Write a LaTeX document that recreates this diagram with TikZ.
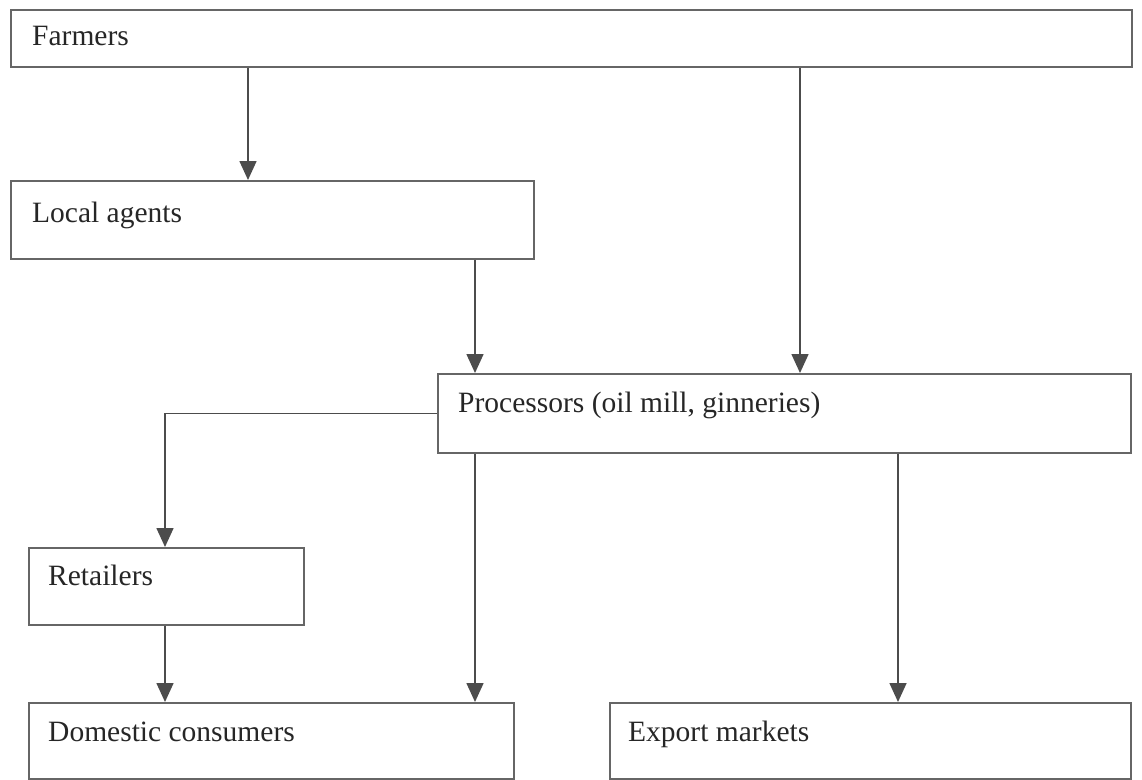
\documentclass[tikz,border=0pt]{standalone}
\usepackage{fontspec}
\setmainfont{Liberation Serif}
\usetikzlibrary{arrows.meta}
\begin{document}
\begin{tikzpicture}[x=1pt,y=-1pt,font=\fontsize{29.5}{34}\selectfont]
    \tikzset{
        box/.style={
            draw=black!60,
            line width=1.8pt,
            anchor=north west,
            inner sep=0pt
        },
        lbl/.style={anchor=base west,inner sep=0pt,text=black!85},
        flow/.style={draw=black!70,line width=1.6pt,
            -{Triangle[width=17pt,length=19pt]}}
    }
    \useasboundingbox (0,0) rectangle (1142,779);

    \node[box,minimum width=1121pt,minimum height=57pt] (farmers) at (10,9) {};
    \node[box,minimum width=523pt,minimum height=78pt] (agents) at (10,180) {};
    \node[box,minimum width=693pt,minimum height=79pt] (proc) at (437,373) {};
    \node[box,minimum width=275pt,minimum height=77pt] (retail) at (28,547) {};
    \node[box,minimum width=485pt,minimum height=76pt] (domestic) at (28,702) {};
    \node[box,minimum width=521pt,minimum height=76pt] (export) at (609,702) {};

    \node[lbl] (farmersT) at ([shift={(22,36)}]farmers.north west) {Farmers};
    \node[lbl] (agentsT) at ([shift={(22,42)}]agents.north west) {Local agents};
    \node[lbl] (procT) at ([shift={(21,39)}]proc.north west)
        {Processors (oil mill, ginneries)};
    \node[lbl] (retailT) at ([shift={(20,38)}]retail.north west) {Retailers};
    \node[lbl] (domesticT) at ([shift={(20,39)}]domestic.north west)
        {Domestic consumers};
    \node[lbl] (exportT) at ([shift={(19,39)}]export.north west) {Export markets};

    % entry points
    \coordinate (procIn) at ([xshift=363pt]proc.north west);
    \coordinate (exportIn) at ([xshift=289pt]export.north west);

    \draw[flow] ([xshift=238pt]farmers.south west) -- ([xshift=238pt]agents.north west);
    \draw[flow] (farmers.south -| procIn) -- (procIn);
    \draw[flow] ([xshift=465pt]agents.south west) -- ([xshift=38pt]proc.north west);
    \draw[flow] (proc.west) -| ([xshift=137pt]retail.north west);
    \draw[flow] ([xshift=38pt]proc.south west) -- ([xshift=447pt]domestic.north west);
    \draw[flow] (proc.south -| exportIn) -- (exportIn);
    \draw[flow] ([xshift=137pt]retail.south west) -- ([xshift=137pt]domestic.north west);
\end{tikzpicture}
\end{document}
